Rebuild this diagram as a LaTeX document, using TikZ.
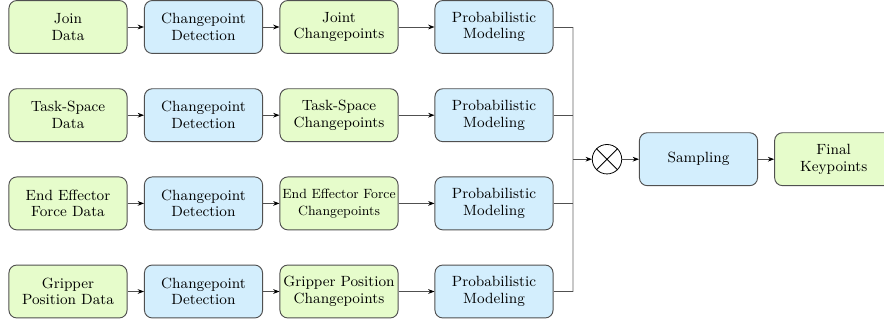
\documentclass[tikz,border=0pt]{standalone}
\usetikzlibrary{arrows.meta}
\definecolor{datagreen}{HTML}{E6FCCB}
\definecolor{procblue}{HTML}{D3EEFD}
\definecolor{edgegray}{HTML}{505050}
\definecolor{busgray}{HTML}{C8C8C8}
\tikzset{
  box/.style={draw=edgegray, line width=0.6pt, rounded corners=5pt, minimum width=75pt, minimum height=33.6pt, align=center, inner xsep=0pt, inner ysep=1pt, font=\fontsize{9.4}{10.6}\selectfont},
  databox/.style={box, fill=datagreen},
  procbox/.style={box, fill=procblue},
  arr/.style={draw=edgegray, line width=0.5pt, -{Stealth[length=4pt,width=3pt,black]}},
  link/.style={draw=edgegray, line width=0.5pt},
  bus/.style={draw=busgray, line width=0.9pt}
}
\begin{document}
\begin{tikzpicture}[x=0.635pt, y=-0.635pt, line join=round]
  \useasboundingbox (0,0) rectangle (884,323);
  % row 1
  \node[databox] (data1) at (68,27) {Join\\Data};
  \node[procbox] (det1) at (203.5,27) {Changepoint\\Detection};
  \node[databox] (cp1) at (339,27) {Joint\\Changepoints};
  \node[procbox] (prob1) at (494,27) {Probabilistic\\Modeling};
  % row 2
  \node[databox] (data2) at (68,115.2) {Task-Space\\Data};
  \node[procbox] (det2) at (203.5,115.2) {Changepoint\\Detection};
  \node[databox] (cp2) at (339,115.2) {Task-Space\\Changepoints};
  \node[procbox] (prob2) at (494,115.2) {Probabilistic\\Modeling};
  % row 3
  \node[databox] (data3) at (68,203.4) {End Effector\\Force Data};
  \node[procbox] (det3) at (203.5,203.4) {Changepoint\\Detection};
  \node[databox, font=\fontsize{8.5}{10.6}\selectfont] (cp3) at (339,203.4) {End Effector Force\\Changepoints};
  \node[procbox] (prob3) at (494,203.4) {Probabilistic\\Modeling};
  % row 4
  \node[databox] (data4) at (68,291.5) {Gripper\\Position Data};
  \node[procbox] (det4) at (203.5,291.5) {Changepoint\\Detection};
  \node[databox] (cp4) at (339,291.5) {Gripper Position\\Changepoints};
  \node[procbox] (prob4) at (494,291.5) {Probabilistic\\Modeling};
  \foreach \r in {1,...,4}{
    \draw[arr] (data\r) -- (det\r);
    \draw[arr] (det\r) -- (cp\r);
    \draw[arr] (cp\r) -- (prob\r);
  }
  % merge
  \coordinate (bus) at (573,159.2);
  \draw[bus] (prob1.east -| bus) -- (prob4.east -| bus);
  \foreach \r in {1,...,4}
    \draw[link] (prob\r.east) -- (prob\r.east -| bus);
  \node[draw=black, line width=0.5pt, circle, minimum size=18.7pt, inner sep=0pt] (mult) at (607,159.2) {};
  \draw[line width=0.5pt] (mult.north east) -- (mult.south west) (mult.north west) -- (mult.south east);
  \node[procbox] (samp) at (698.5,159.2) {Sampling};
  \node[databox] (final) at (833.7,159.2) {Final\\Keypoints};
  \draw[arr] (bus) -- (mult);
  \draw[arr] (mult) -- (samp);
  \draw[arr] (samp) -- (final);
\end{tikzpicture}
\end{document}
